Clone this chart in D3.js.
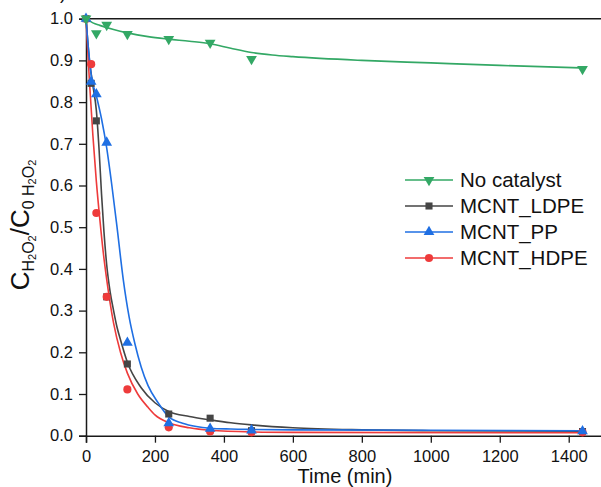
<!DOCTYPE html>
<html>
<head>
<meta charset="utf-8">
<script src="https://cdn.jsdelivr.net/npm/d3@7"></script>
<style>
  body { margin: 0; background: #fff; }
  text { font-family: "Liberation Sans", Arial, sans-serif; fill: #111; }
</style>
</head>
<body>
<svg id="svg-chart" width="601" height="487"></svg>
<script>
//////////////////////////////////////////////////////////////////////////////////////////
// Data
//////////////////////////////////////////////////////////////////////////////////////////

var series_names = ['No catalyst', 'MCNT_LDPE', 'MCNT_PP', 'MCNT_HDPE']

// measured points
var t_green = [0, 30, 60, 120, 240, 360, 480, 1440]
var c_green = [1.0, 0.965, 0.985, 0.963, 0.951, 0.942, 0.903, 0.879]

var t_meas = [0, 15, 30, 60, 120, 240, 360, 480, 1440]
var c_ldpe = [1.0, 0.845, 0.755, 0.333, 0.172, 0.052, 0.042, 0.012, 0.010]
var c_pp   = [1.0, 0.849, 0.819, 0.703, 0.223, 0.030, 0.017, 0.013, 0.011]
var c_hdpe = [1.0, 0.891, 0.534, 0.333, 0.111, 0.020, 0.010, 0.008, 0.008]

// fitted curves
var fit_t_green = [0, 20, 40, 80, 120, 180, 240, 300, 360, 420, 480, 540, 600, 800, 1000, 1200, 1440]
var fit_c_green = [1.0, 0.99, 0.984, 0.974, 0.966, 0.957, 0.951, 0.946, 0.940, 0.929, 0.919, 0.913, 0.909, 0.900, 0.894, 0.888, 0.882]

var fit_t_ldpe = [0, 10, 20, 30, 38, 45, 52, 60, 70, 80, 90, 100, 120, 160, 200, 240, 300, 360, 420, 480, 600, 800, 1000, 1440]
var fit_c_ldpe = [1.0, 0.90, 0.84, 0.78, 0.685, 0.58, 0.49, 0.41, 0.345, 0.30, 0.26, 0.23, 0.176, 0.115, 0.079, 0.058, 0.046, 0.038, 0.031, 0.026, 0.019, 0.014, 0.012, 0.011]

var fit_t_pp = [0, 8, 16, 30, 45, 60, 75, 90, 108, 125, 142, 160, 180, 210, 240, 280, 320, 360, 420, 480, 600, 1000, 1440]
var fit_c_pp = [1.0, 0.92, 0.86, 0.815, 0.76, 0.69, 0.60, 0.50, 0.375, 0.285, 0.22, 0.165, 0.12, 0.078, 0.045, 0.030, 0.022, 0.018, 0.016, 0.015, 0.014, 0.013, 0.012]

var fit_t_hdpe = [0, 10, 20, 30, 40, 50, 60, 80, 100, 120, 150, 180, 200, 240, 300, 360, 480, 600, 1440]
var fit_c_hdpe = [1.0, 0.85, 0.72, 0.61, 0.52, 0.44, 0.375, 0.27, 0.20, 0.15, 0.10, 0.068, 0.050, 0.031, 0.019, 0.013, 0.009, 0.008, 0.007]

var x_ticks = [0, 200, 400, 600, 800, 1000, 1200, 1400]
var y_ticks = [0.0, 0.1, 0.2, 0.3, 0.4, 0.5, 0.6, 0.7, 0.8, 0.9, 1.0]

//////////////////////////////////////////////////////////////////////////////////////////
// Scales
//////////////////////////////////////////////////////////////////////////////////////////

var svg = d3.select('#svg-chart')

var x = d3.scaleLinear().domain([0, 1500]).range([86, 603.2])
var y = d3.scaleLinear().domain([0, 1]).range([435.7, 18.7])

var colors = {
  green: '#33a865',
  gray: '#454545',
  blue: '#1f6fe3',
  red: '#ee3b3b'
}

//////////////////////////////////////////////////////////////////////////////////////////
// Axes
//////////////////////////////////////////////////////////////////////////////////////////

// top border (right border falls outside the picture)
svg.append('line')
  .attr('x1', x(0)).attr('x2', 610)
  .attr('y1', y(1)).attr('y2', y(1))
  .attr('stroke', '#1a1a1a').attr('stroke-width', 1.5)

var g_x = svg.append('g').attr('transform', 'translate(0,' + y(0) + ')')
g_x.call(d3.axisBottom(x).tickValues(d3.range(0, 1501, 100)).tickSize(4).tickFormat(''))
g_x.call(d3.axisBottom(x).tickValues(x_ticks).tickSize(7).tickPadding(8).tickFormat(d3.format('d')))

var g_y = svg.append('g').attr('transform', 'translate(' + x(0) + ',0)')
g_y.call(d3.axisLeft(y).tickValues(d3.range(0, 1.001, 0.05)).tickSize(4).tickFormat(''))
g_y.call(d3.axisLeft(y).tickValues(y_ticks).tickSize(7).tickPadding(6).tickFormat(d3.format('.1f')))

svg.selectAll('.domain')
  .attr('stroke', '#1a1a1a').attr('stroke-width', 1.5)
svg.selectAll('.tick line').attr('stroke', '#1a1a1a').attr('stroke-width', 1.3)
svg.selectAll('.tick text')
  .style('font-family', '"Liberation Sans", Arial, sans-serif')
  .style('font-size', '16.5px')
  .attr('fill', '#111')

// axis titles
svg.append('text')
  .attr('x', 345).attr('y', 483)
  .attr('text-anchor', 'middle')
  .style('font-size', '20px')
  .text('Time (min)')

var y_title = svg.append('text')
  .attr('transform', 'translate(29,225) rotate(-90)')
  .attr('text-anchor', 'middle')
  .style('font-size', '26px')
y_title.append('tspan').text('C')
y_title.append('tspan').attr('dy', 5).style('font-size', '16px').text('H')
y_title.append('tspan').attr('dy', 2).style('font-size', '11px').text('2')
y_title.append('tspan').attr('dy', -2).style('font-size', '16px').text('O')
y_title.append('tspan').attr('dy', 2).style('font-size', '11px').text('2')
y_title.append('tspan').attr('dy', -7).style('font-size', '26px').text('/C')
y_title.append('tspan').attr('dy', 5).style('font-size', '16px').text('0 H')
y_title.append('tspan').attr('dy', 2).style('font-size', '11px').text('2')
y_title.append('tspan').attr('dy', -2).style('font-size', '16px').text('O')
y_title.append('tspan').attr('dy', 2).style('font-size', '11px').text('2')

// cut-off panel label at the top
svg.append('text')
  .attr('x', 50).attr('y', -1)
  .style('font-size', '18px')
  .text('a)')

//////////////////////////////////////////////////////////////////////////////////////////
// Curves and markers
//////////////////////////////////////////////////////////////////////////////////////////

var line = d3.line()
  .x(function(d) { return x(d[0]) })
  .y(function(d) { return y(d[1]) })
  .curve(d3.curveMonotoneX)

function draw_fit(ts, cs, color) {
  svg.append('path')
    .datum(d3.zip(ts, cs))
    .attr('d', line)
    .attr('fill', 'none')
    .attr('stroke', color)
    .attr('stroke-width', 1.6)
}

var sym = {
  square: d3.symbol().type(d3.symbolSquare).size(50),
  circle: d3.symbol().type(d3.symbolCircle).size(52),
  up: d3.symbol().type(d3.symbolTriangle).size(50),
  down: d3.symbol().type(d3.symbolTriangle).size(50)
}

function draw_points(ts, cs, shape, color) {
  svg.append('g')
    .selectAll('path')
    .data(d3.zip(ts, cs))
    .join('path')
    .attr('d', sym[shape])
    .attr('transform', function(d) {
      return 'translate(' + x(d[0]) + ',' + y(d[1]) + ')' + (shape == 'down' ? ' rotate(180)' : '')
    })
    .attr('fill', color)
}

draw_fit(fit_t_ldpe, fit_c_ldpe, colors.gray)
draw_fit(fit_t_hdpe, fit_c_hdpe, colors.red)
draw_fit(fit_t_pp, fit_c_pp, colors.blue)
draw_fit(fit_t_green, fit_c_green, colors.green)

draw_points(t_meas, c_ldpe, 'square', colors.gray)
draw_points(t_meas, c_hdpe, 'circle', colors.red)
draw_points(t_meas, c_pp, 'up', colors.blue)
draw_points(t_green, c_green, 'down', colors.green)

//////////////////////////////////////////////////////////////////////////////////////////
// Legend
//////////////////////////////////////////////////////////////////////////////////////////

var legend_shapes = ['down', 'square', 'up', 'circle']
var legend_colors = [colors.green, colors.gray, colors.blue, colors.red]

var g_legend = svg.append('g').attr('id', 'g-legend')
series_names.forEach(function(name, i) {
  var ly = 180 + i * 26
  g_legend.append('line')
    .attr('x1', 405).attr('x2', 453)
    .attr('y1', ly).attr('y2', ly)
    .attr('stroke', legend_colors[i]).attr('stroke-width', 1.6)
  g_legend.append('path')
    .attr('d', sym[legend_shapes[i]])
    .attr('transform', 'translate(429,' + ly + ')' + (legend_shapes[i] == 'down' ? ' rotate(180)' : ''))
    .attr('fill', legend_colors[i])
  g_legend.append('text')
    .attr('x', 460).attr('y', ly)
    .attr('dy', '0.35em')
    .style('font-size', '20.5px')
    .text(name)
})
</script>
</body>
</html>
